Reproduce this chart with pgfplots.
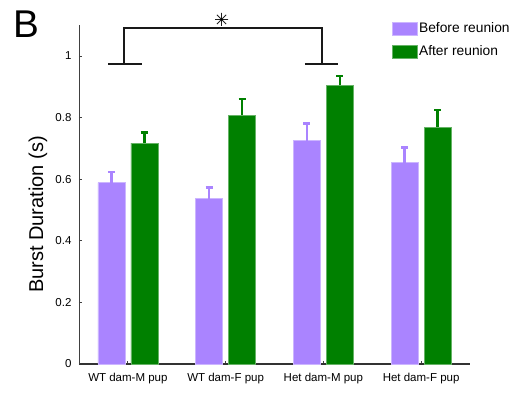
\documentclass[border=0pt]{standalone}
\usepackage{pgfplots}
\pgfplotsset{compat=1.18}
\usepackage{fontspec}
\setmainfont{Liberation Sans}
\newfontfamily\symfont{DejaVu Sans}
\definecolor{before}{RGB}{170,132,255}
\definecolor{after}{RGB}{0,128,0}

\pgfplotstableread{
x y err
0 0.589 0.035
1 0.537 0.036
2 0.725 0.056
3 0.654 0.049
}\beforetab
\pgfplotstableread{
x y err
0 0.717 0.034
1 0.807 0.054
2 0.905 0.031
3 0.768 0.057
}\aftertab

\begin{document}
\begin{tikzpicture}
\path[use as bounding box] (-79pt,-28pt) rectangle (433pt,364pt);
\begin{axis}[
  name=ax, at={(0,0)}, anchor=south west,
  scale only axis, width=391pt, height=338.8pt,
  xmin=-0.5, xmax=3.5, ymin=0, ymax=1.1,
  axis lines=left,
  axis line style={-, black!75, line width=0.8pt},
  x axis line style={line width=1.6pt, black!80},
  ybar=6pt, bar width=27pt,
  xtick={0,1,2,3},
  xticklabels={WT dam-M pup, WT dam-F pup, Het dam-M pup, Het dam-F pup},
  ytick={0,0.2,0.4,0.6,0.8,1},
  tick align=inside, major tick length=3.5pt,
  tick style={black!75, line width=0.8pt},
  ticklabel style={font=\fontsize{11.5}{13}\selectfont},
  /pgf/number format/assume math mode=true,
  yticklabel style={xshift=-4pt},
  xticklabel style={yshift=-6pt},
  ylabel={Burst Duration (s)},
  ylabel style={font=\fontsize{20}{24}\selectfont, at={(axis description cs:-0.105,0.441)}, anchor=center},
  clip=false,
  legend style={at={(axis description cs:0.80,1.013)}, anchor=north west,
    draw=none, fill=none, font=\fontsize{13.8}{16}\selectfont, row sep=6.8pt,
    inner sep=0pt, nodes={inner sep=1.5pt, text height=10pt, text depth=3pt}},
  legend cell align=left,
  error bars/y dir=plus, error bars/y explicit,
]
\addplot[fill=before, draw=before!60!white, line width=0.6pt,
  error bars/error bar style={before, line width=2.6pt},
  error bars/error mark options={before, rotate=90, mark size=3.6pt, line width=2.4pt},
  legend image code/.code={\fill[fill=before] (0pt,-6.8pt) rectangle (25pt,6.8pt);}]
  table[x=x, y=y, y error=err] {\beforetab};
\addlegendentry{Before reunion}
\addplot[fill=after, draw=after!60!white, line width=0.6pt,
  error bars/error bar style={after, line width=2.6pt},
  error bars/error mark options={after, rotate=90, mark size=3.6pt, line width=2.4pt},
  legend image code/.code={\fill[fill=after] (0pt,-6.8pt) rectangle (25pt,6.8pt);}]
  table[x=x, y=y, y error=err] {\aftertab};
\addlegendentry{After reunion}

% significance bracket between WT dam-M pup and Het dam-M pup
\draw[line width=1.4pt, black!90] (axis cs:-0.2,0.974) -- (axis cs:0.14,0.974);
\draw[line width=1.4pt, black!90] (axis cs:1.81,0.974) -- (axis cs:2.15,0.974);
\draw[line width=1.4pt, black!90] (axis cs:-0.04,0.974) -- (axis cs:-0.04,1.091)
  -- (axis cs:1.985,1.091) -- (axis cs:1.985,0.974);
\node[font=\symfont\fontsize{18}{18}\selectfont, inner sep=0pt] at (axis cs:0.959,1.117) {✳};
\end{axis}
\node[anchor=base west, inner sep=0pt, font=\fontsize{38.7}{40}\selectfont] at (-65.8pt,326.3pt) {B};
\end{tikzpicture}
\end{document}
